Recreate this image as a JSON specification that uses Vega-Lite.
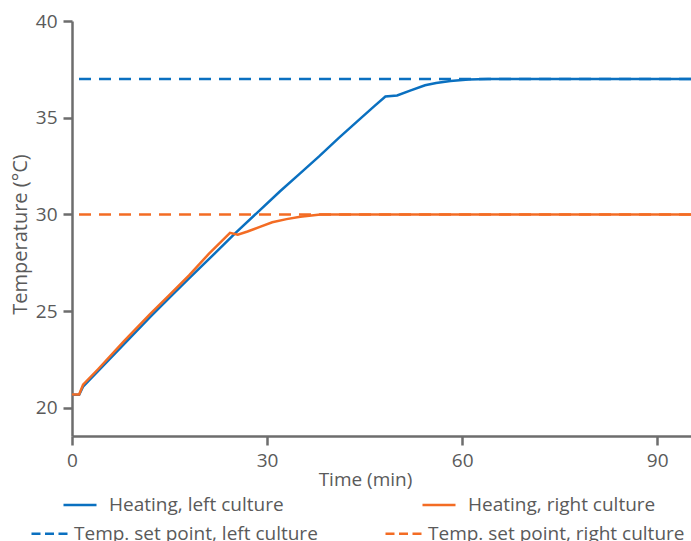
{
  "$schema": "https://vega.github.io/schema/vega-lite/v6.json",
  "width": 619,
  "height": 415,
  "autosize": {"type": "none"},
  "padding": {"left": 72, "top": 21, "right": 0, "bottom": 105},
  "background": "white",
  "datasets": {
    "heating": [
      {"series": "Heating, left culture", "t": 0, "T": 20.68},
      {"series": "Heating, left culture", "t": 1.1, "T": 20.68},
      {"series": "Heating, left culture", "t": 1.7, "T": 21.1},
      {"series": "Heating, left culture", "t": 4, "T": 21.9},
      {"series": "Heating, left culture", "t": 8, "T": 23.3},
      {"series": "Heating, left culture", "t": 12, "T": 24.7},
      {"series": "Heating, left culture", "t": 15, "T": 25.7},
      {"series": "Heating, left culture", "t": 18, "T": 26.7},
      {"series": "Heating, left culture", "t": 22, "T": 28.0},
      {"series": "Heating, left culture", "t": 25, "T": 29.0},
      {"series": "Heating, left culture", "t": 28.5, "T": 30.1},
      {"series": "Heating, left culture", "t": 32, "T": 31.2},
      {"series": "Heating, left culture", "t": 35, "T": 32.1},
      {"series": "Heating, left culture", "t": 38, "T": 33.0},
      {"series": "Heating, left culture", "t": 41, "T": 33.95},
      {"series": "Heating, left culture", "t": 44, "T": 34.85},
      {"series": "Heating, left culture", "t": 46.5, "T": 35.6},
      {"series": "Heating, left culture", "t": 48.2, "T": 36.1},
      {"series": "Heating, left culture", "t": 50, "T": 36.15},
      {"series": "Heating, left culture", "t": 52, "T": 36.4},
      {"series": "Heating, left culture", "t": 54.3, "T": 36.68},
      {"series": "Heating, left culture", "t": 56, "T": 36.8},
      {"series": "Heating, left culture", "t": 58.2, "T": 36.9},
      {"series": "Heating, left culture", "t": 61, "T": 36.97},
      {"series": "Heating, left culture", "t": 64, "T": 37.0},
      {"series": "Heating, left culture", "t": 95.2, "T": 37.0},
      {"series": "Heating, right culture", "t": 0, "T": 20.7},
      {"series": "Heating, right culture", "t": 1.1, "T": 20.7},
      {"series": "Heating, right culture", "t": 1.7, "T": 21.2},
      {"series": "Heating, right culture", "t": 4, "T": 22.0},
      {"series": "Heating, right culture", "t": 8, "T": 23.45},
      {"series": "Heating, right culture", "t": 12, "T": 24.85},
      {"series": "Heating, right culture", "t": 15, "T": 25.85},
      {"series": "Heating, right culture", "t": 18, "T": 26.85},
      {"series": "Heating, right culture", "t": 21, "T": 27.95},
      {"series": "Heating, right culture", "t": 24.3, "T": 29.05},
      {"series": "Heating, right culture", "t": 25.5, "T": 28.95},
      {"series": "Heating, right culture", "t": 27, "T": 29.12},
      {"series": "Heating, right culture", "t": 28.9, "T": 29.36},
      {"series": "Heating, right culture", "t": 30.8, "T": 29.6},
      {"series": "Heating, right culture", "t": 33, "T": 29.76},
      {"series": "Heating, right culture", "t": 35.1, "T": 29.88},
      {"series": "Heating, right culture", "t": 38.2, "T": 30.0},
      {"series": "Heating, right culture", "t": 95.2, "T": 30.0}
    ],
    "setpoints": [
      {"series": "Temp. set point, left culture", "T": 37},
      {"series": "Temp. set point, right culture", "T": 30}
    ]
  },
  "layer": [
    {
      "data": {"name": "heating"},
      "mark": {"type": "line", "strokeWidth": 2.5, "clip": true},
      "encoding": {
        "x": {
          "field": "t", "type": "quantitative", "title": "Time (min)",
          "scale": {"domain": [0, 95.2], "nice": false},
          "axis": {"values": [0, 30, 60, 90], "labelPadding": 6, "titlePadding": 0, "labelFlush": false, "titleFontSize": 19, "titleX": 293}
        },
        "y": {
          "field": "T", "type": "quantitative", "title": "Temperature (°C)",
          "scale": {"domain": [18.55, 40], "nice": false, "zero": false},
          "axis": {"values": [20, 25, 30, 35, 40], "labelPadding": 6, "titlePadding": 5, "titleFontSize": 20, "titleY": 213}
        },
        "color": {
          "field": "series", "type": "nominal",
          "scale": {"domain": ["Heating, left culture", "Heating, right culture"], "range": ["#0a70c0", "#f36c24"]},
          "legend": {"orient": "none", "legendX": -10, "legendY": 466, "direction": "horizontal", "columnPadding": 133, "labelOffset": 11, "symbolSize": 1090}
        }
      }
    },
    {
      "data": {"name": "setpoints"},
      "mark": {"type": "rule", "strokeWidth": 2.5, "strokeDash": [12, 8]},
      "encoding": {
        "y": {"field": "T", "type": "quantitative"},
        "color": {
          "field": "series", "type": "nominal",
          "scale": {"domain": ["Temp. set point, left culture", "Temp. set point, right culture"], "range": ["#0a70c0", "#f36c24"]},
          "legend": {"orient": "none", "legendX": -42, "legendY": 493, "direction": "horizontal", "columnPadding": 62, "labelOffset": 5, "symbolSize": 1296, "symbolDash": [9, 4.5]}
        }
      }
    }
  ],
  "resolve": {"scale": {"color": "independent"}},
  "config": {
    "view": {"stroke": null},
    "font": "Open Sans",
    "axis": {
      "grid": false,
      "domainColor": "#6d6d6d",
      "domainWidth": 2.5,
      "tickColor": "#6d6d6d",
      "tickWidth": 2.5,
      "tickSize": 9,
      "labelFont": "Open Sans",
      "labelFontSize": 19,
      "labelColor": "#5a5a5a",
      "titleFont": "Open Sans",
      "titleFontSize": 19,
      "titleFontWeight": "normal",
      "titleColor": "#5a5a5a"
    },
    "legend": {
      "title": null,
      "labelFont": "Open Sans",
      "labelFontSize": 19,
      "labelLimit": 400,
      "labelColor": "#5a5a5a",
      "symbolType": "stroke",
      "symbolStrokeWidth": 2.5
    }
  }
}
